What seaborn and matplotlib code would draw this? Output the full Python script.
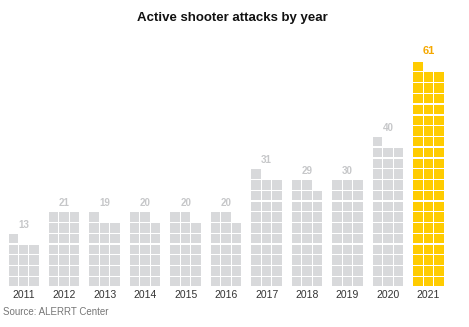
import numpy as np
import pandas as pd
import matplotlib
matplotlib.use("Agg")
import matplotlib.pyplot as plt
import seaborn as sns

years = ["2011", "2012", "2013", "2014", "2015", "2016", "2017", "2018", "2019", "2020", "2021"]
attacks = [13, 21, 19, 20, 20, 20, 31, 29, 30, 40, 61]
highlight_year = "2021"

COLS = 3
GROUP = 3.87  # spacing between year groups, in cell units

rows = []
for i, (yr, v) in enumerate(zip(years, attacks)):
    for k in range(v):
        rows.append({"year": yr,
                     "x": i * GROUP + (k % COLS),
                     "y": (k // COLS) + 0.5,
                     "hl": yr == highlight_year})
cells = pd.DataFrame(rows)

sns.set_theme(style="white")
plt.rcParams["font.family"] = ["Liberation Sans", "DejaVu Sans"]

fig = plt.figure(figsize=(4.69, 3.27), dpi=100)
ax = fig.add_axes([0.0059, 0.1223, 0.959, 0.8226])

sns.scatterplot(data=cells, x="x", y="y", hue="hl",
                palette={False: "#d8d9db", True: "#ffcc00"},
                marker="s", s=46, linewidth=0, legend=False, ax=ax)

ax.set_xlim(-1, 42)
ax.set_ylim(0, 25)

centers = [i * GROUP + 1 for i in range(len(years))]
ax.set_xticks(centers)
ax.set_xticklabels(years, fontsize=7.5, color="#333333")
ax.tick_params(axis="x", length=0, pad=2)
ax.set_yticks([])
ax.set_xlabel("")
ax.set_ylabel("")
sns.despine(ax=ax, left=True, bottom=True)

for i, (yr, v) in enumerate(zip(years, attacks)):
    top = int(np.ceil(v / COLS))
    hl = yr == highlight_year
    ax.annotate(str(v), (centers[i], top), xytext=(0, 4 if hl else 2.5),
                textcoords="offset points", ha="center", va="bottom",
                fontsize=8 if hl else 7, fontweight="bold",
                color="#f5a800" if hl else "#c6c7c9")

fig.text(0.495, 0.945, "Active shooter attacks by year", ha="center", va="center",
         fontsize=9.5, fontweight="bold", color="#111111")
fig.text(0.006, 0.045, "Source: ALERRT Center", ha="left", va="center",
         fontsize=7, color="#777777")

fig.savefig("out.png", dpi=100)
